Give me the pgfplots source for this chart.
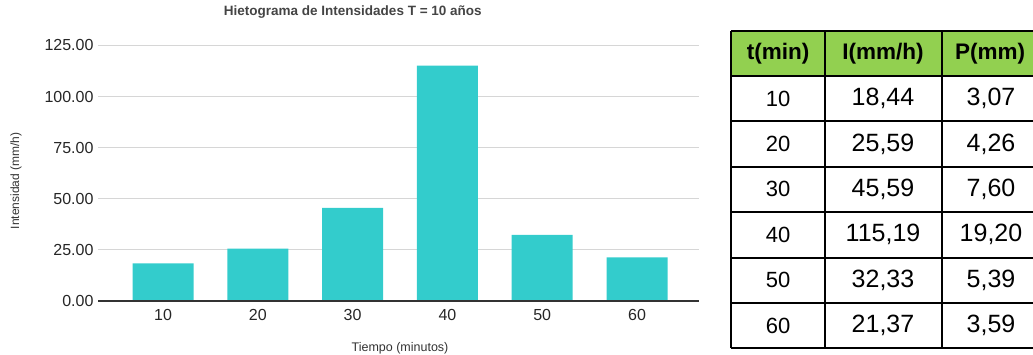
\documentclass[border=0pt]{standalone}
\usepackage{pgfplots}
\pgfplotsset{compat=1.18}
\usepackage{fontspec}
\setmainfont{Liberation Sans}
\definecolor{barcol}{HTML}{33CCCC}
\definecolor{gridcol}{HTML}{D6D6D6}
\definecolor{axiscol}{HTML}{333333}
\definecolor{titlecol}{HTML}{444444}
\definecolor{headcol}{HTML}{92D050}
\newcommand{\fs}[1]{\fontsize{#1}{#1}\selectfont}
\begin{document}
\begin{tikzpicture}[x=1pt,y=1pt]
\useasboundingbox (0,0) rectangle (1033,355);
\begin{axis}[
  at={(98pt,54pt)}, anchor=south west,
  scale only axis, width=601pt, height=255.5pt,
  xmin=-0.686, xmax=5.654, ymin=0, ymax=125,
  axis line style={draw=none},
  ytick={0,25,50,75,100,125},
  xtick={0,1,2,3,4,5},
  xticklabels={10,20,30,40,50,60},
  /pgf/number format/assume math mode=true,
  yticklabel style={/pgf/number format/fixed,/pgf/number format/fixed zerofill,/pgf/number format/precision=2,
    font=\fs{16}, text=black!85, xshift=-1pt},
  xticklabel style={font=\fs{16}, text=black!85, yshift=-5pt},
  major tick length=0pt,
  ymajorgrids, grid style={gridcol, line width=1.2pt},
  title={\bfseries Hietograma de Intensidades T = 10 años},
  title style={font=\fs{13.5}, text=titlecol, at={(axis description cs:0.424,1.108)}, anchor=center},
  xlabel={Tiempo (minutos)},
  xlabel style={font=\fs{12.5}, text=black!80, at={(axis description cs:0.5025,-0.184)}, anchor=center},
  ylabel={Intensidad (mm/h)},
  ylabel style={font=\fs{12}, text=black!80, at={(axis description cs:-0.1364,0.47)}, anchor=center},
  clip=false,
]
\addplot[ybar, bar width=61pt, fill=barcol, draw=none] coordinates {
  (0,18.44) (1,25.59) (2,45.59) (3,115.19) (4,32.33) (5,21.37)
};
% baseline at zero
\draw[axiscol, line width=1.5pt] (axis cs:-0.686,0) -- (axis cs:5.654,0);
\end{axis}
% data table
\fill[headcol] (731,355-31) rectangle (1033,355-76);
\foreach \y in {31,76,121,167,212,258,303,348}
  \draw[black, line width=2pt] (731,355-\y) -- (1033,355-\y);
\foreach \x in {731,825,942}
  \draw[black, line width=2pt] (\x,355-31) -- (\x,355-348);
\node[font=\fs{22.5}\bfseries] at (778,355-53.5) {t(min)};
\node[font=\fs{22.5}\bfseries] at (883,355-53.5) {I(mm/h)};
\node[font=\fs{22.5}\bfseries] at (990,355-53.5) {P(mm)};
\foreach \row/\t/\i/\p in {0/10/{18,44}/{3,07},1/20/{25,59}/{4,26},2/30/{45,59}/{7,60},3/40/{115,19}/{19,20},4/50/{32,33}/{5,39},5/60/{21,37}/{3,59}}{
  \pgfmathsetmacro{\yc}{355-98.5-45.4*\row}
  \node[font=\fs{22}] at (778,\yc) {\t};
  \node[font=\fs{25}] at (883,\yc) {\i};
  \node[font=\fs{25}] at (991,\yc) {\p};
}
\end{tikzpicture}
\end{document}
